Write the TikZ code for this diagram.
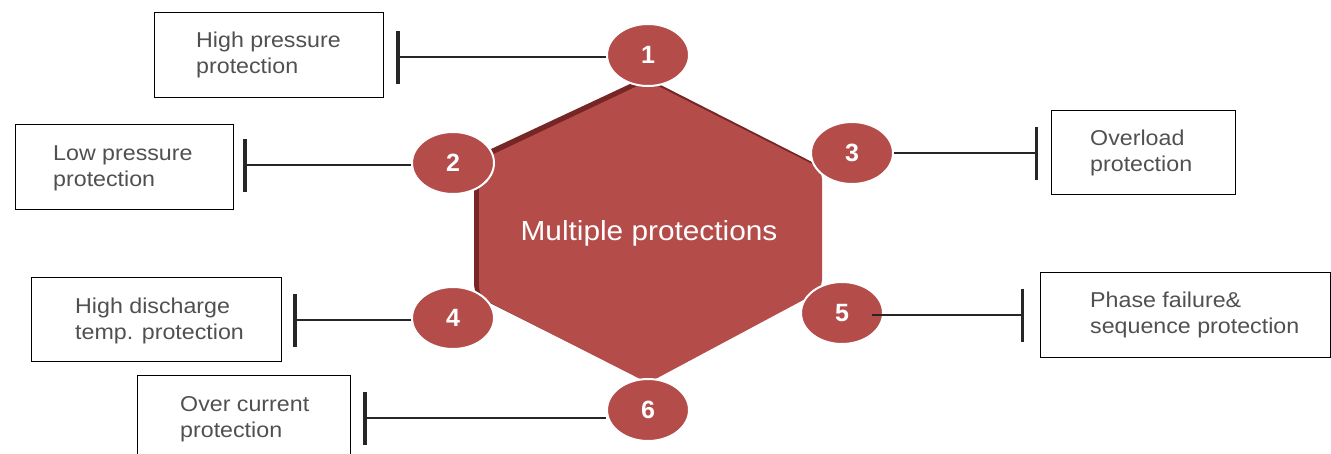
\documentclass[tikz,border=0pt]{standalone}
\usepackage{fontspec}
\setmainfont{Liberation Sans}
\newfontfamily\widefont[FakeStretch=1.08]{Liberation Sans}
\usetikzlibrary{shapes.geometric,arrows.meta,calc}
\definecolor{hexred}{RGB}{180,76,74}
\definecolor{hexdark}{RGB}{118,38,36}
\definecolor{txtgray}{RGB}{80,80,80}
\begin{document}
\begin{tikzpicture}[x=1pt,y=-1pt,
  box/.style={draw=black, line width=1pt, anchor=north west, inner sep=0},
  txt/.style={anchor=west, align=left, text=txtgray, font=\widefont\fontsize{21.5}{26}\selectfont, inner sep=0},
  num/.style={ellipse, fill=hexred, draw=white, line width=2pt, minimum width=82pt, minimum height=62pt, text=white, font=\fontsize{25}{25}\selectfont\bfseries, inner sep=0},
  conn/.style={line width=2.8pt, draw=black!85, -{Bar[width=53pt,line width=3.5pt]}}]
\useasboundingbox (0,0) rectangle (1331,453);
% hexagon
\fill[hexdark, rounded corners=10pt] (645,77) -- (820,166) -- (820,288) -- (646,381) -- (474,295) -- (474,157) -- cycle;
\fill[hexred, rounded corners=10pt] (648,81) -- (822,169) -- (822,290) -- (648,383) -- (479,297) -- (479,161) -- cycle;
\node[font=\widefont\fontsize{27.6}{27.6}\selectfont, text=white] (center) at (649,233) {Multiple protections};
% boxes
\node[box, minimum width=229pt, minimum height=85pt] (b1) at (154,12) {};
\node[box, minimum width=218pt, minimum height=85pt] (b2) at (15,124) {};
\node[box, minimum width=184pt, minimum height=84pt] (b3) at (1051,110) {};
\node[box, minimum width=250pt, minimum height=84pt] (b4) at (31,277) {};
\node[box, minimum width=290pt, minimum height=85pt] (b5) at (1040,272) {};
\node[box, minimum width=213pt, minimum height=85pt] (b6) at (137,375) {};
\node[txt] (l1) at ($(b1.west)+(42,0)$) {High pressure\\protection};
\node[txt] (l2) at ($(b2.west)+(38,1)$) {Low pressure\\protection};
\node[txt] (l3) at ($(b3.west)+(39,0)$) {Overload\\protection};
\node[txt] (l4) at ($(b4.west)+(44,1)$) {High discharge\\temp. protection};
\node[txt] (l5) at ($(b5.west)+(50,0)$) {Phase failure\&\\sequence protection};
\node[txt] (l6) at ($(b6.west)+(43,1)$) {Over current\\protection};
% bar ends
\coordinate (t1) at (396,57);
\coordinate (t2) at (243,165);
\coordinate (t3) at (1038,153);
\coordinate (t4) at (293,320);
\coordinate (t5) at (1024,315);
\coordinate (t6) at (363,418);
% numbered circles
\node[num] (c1) at (648,55) {1};
\node[num] (c2) at (453,163) {2};
\node[num] (c3) at (852,153) {3};
\node[num] (c4) at (453,318) {4};
\node[num] (c5) at (842,313) {5};
\node[num] (c6) at (648,410) {6};
% connectors
\draw[conn] (t1 -| c1.west) -- (t1);
\draw[conn] (t2 -| c2.west) -- (t2);
\draw[conn] (t3 -| c3.east) -- (t3);
\draw[conn] (t4 -| c4.west) -- (t4);
\draw[conn] ($(t5 -| c5.east)+(-12,0)$) -- (t5);
\draw[conn] (t6 -| c6.west) -- (t6);
\end{tikzpicture}
\end{document}
